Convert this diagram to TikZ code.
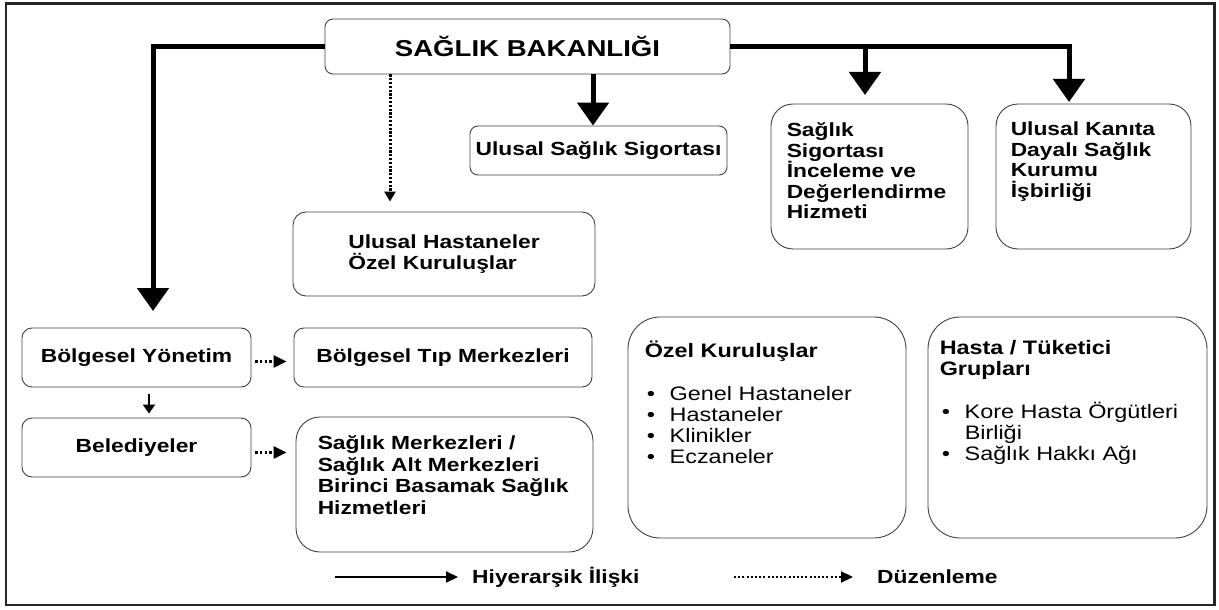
\documentclass[tikz,border=0pt]{standalone}
\usepackage{fontspec}
\setmainfont{Liberation Sans}[FakeStretch=1.2]
\usetikzlibrary{arrows.meta,calc}
\begin{document}
\begin{tikzpicture}[x=1pt,y=-1pt,
  box/.style={draw=black!75, line width=0.9pt, rounded corners=#1, inner sep=0pt, align=center},
  box/.default=9pt,
  titlefont/.style={font=\fontsize{23}{27}\selectfont\bfseries},
  bodyfont/.style={font=\fontsize{19}{20.5}\selectfont\bfseries},
  listfont/.style={font=\fontsize{19.5}{21}\selectfont},
  txt/.style={anchor=north west, inner sep=0pt, align=left},
  hier/.style={line width=5pt, -{Triangle[length=23pt,width=31pt]}},
  hiersmall/.style={line width=2.6pt, -{Triangle[length=9pt,width=12pt]}},
  reg/.style={line width=3pt, dash pattern=on 2.2pt off 1.6pt, -{Triangle[length=10pt,width=11pt]}},
  regsmall/.style={line width=2.6pt, dash pattern=on 2.4pt off 2.2pt, -{Triangle[length=13pt,width=12pt]}},
  legsolid/.style={line width=2pt, -{Triangle[length=12pt,width=11pt]}},
  legdot/.style={line width=2.2pt, dash pattern=on 2pt off 2.2pt, -{Triangle[length=12pt,width=11pt]}}
]
\useasboundingbox (0,0) rectangle (1219,610);
\draw[line width=2.2pt, black!85] (6,3.5) rectangle (1214.5,605);

% boxes
\node[box=8pt, minimum width=405pt, minimum height=55pt, titlefont] (min) at (527.5,46.5) {SAĞLIK BAKANLIĞI};
\node[box=8pt, minimum width=257pt, minimum height=49pt, bodyfont] (uss) at (598.5,150.5) {Ulusal Sağlık Sigortası};
\node[box=13pt, minimum width=302pt, minimum height=84pt, bodyfont, align=left] (uh) at (444,254) {Ulusal Hastaneler\\Özel Kuruluşlar};

\node[box=22pt, minimum width=197pt, minimum height=145pt] (ssi) at (869.5,176.5) {};
\node[txt, bodyfont] (ssit) at ($(ssi.north west)+(16,19)$) {Sağlık\\Sigortası\\İnceleme ve\\Değerlendirme\\Hizmeti};

\node[box=22pt, minimum width=195pt, minimum height=145pt] (uk) at (1093.5,176.5) {};
\node[txt, bodyfont] (ukt) at ($(uk.north west)+(15,18)$) {Ulusal Kanıta\\Dayalı Sağlık\\Kurumu\\İşbirliği};

\node[box=10pt, minimum width=229pt, minimum height=59pt, bodyfont] (by) at (136.5,357.5) {Bölgesel Yönetim};
\node[box=10pt, minimum width=229pt, minimum height=59pt, bodyfont] (bel) at (136.5,447.5) {Belediyeler};
\node[box=10pt, minimum width=298pt, minimum height=59pt, bodyfont] (btm) at (443,357.5) {Bölgesel Tıp Merkezleri};

\node[box=24pt, minimum width=297pt, minimum height=135pt] (smz) at (444.5,484.5) {};
\node[txt, font=\fontsize{19}{21.5}\selectfont\bfseries] (smzt) at ($(smz.north west)+(22,19)$) {Sağlık Merkezleri /\\Sağlık Alt Merkezleri\\Birinci Basamak Sağlık\\Hizmetleri};

\node[box=32pt, minimum width=278pt, minimum height=221pt] (oz) at (767,427.5) {};
\node[txt, listfont] (ozt) at ($(oz.north west)+(17,24)$) {\textbf{Özel Kuruluşlar}\\[22pt]
\makebox[25pt][l]{\hspace{2pt}•}Genel Hastaneler\\
\makebox[25pt][l]{\hspace{2pt}•}Hastaneler\\
\makebox[25pt][l]{\hspace{2pt}•}Klinikler\\
\makebox[25pt][l]{\hspace{2pt}•}Eczaneler};

\node[box=32pt, minimum width=279pt, minimum height=221pt] (ha) at (1067.5,427.5) {};
\node[txt, listfont] (hat) at ($(ha.north west)+(12,24)$) {\textbf{Hasta / Tüketici}\\\textbf{Grupları}\\[22pt]
\makebox[25pt][l]{\hspace{2pt}•}Kore Hasta Örgütleri\\
\hspace*{25pt}Birliği\\
\makebox[25pt][l]{\hspace{2pt}•}Sağlık Hakkı Ağı};

% connectors
\coordinate (ltip) at (153,311);
\draw[hier] (min.west) -| (ltip);
\coordinate (c593) at (593,0);
\draw[hier] (min.south -| c593) -- (uss.north -| c593);
\coordinate (c390) at (390,0);
\draw[reg, shorten >=10pt] (min.south -| c390) -- (uh.north -| c390);
\coordinate (rtip) at (1069,102);
\draw[hier] (min.east) -| (rtip);
\coordinate (btip) at (865,95);
\draw[hier] (min.east -| btip) -- (btip);

\coordinate (c149) at (149,0);
\draw[hiersmall, shorten <=7pt, shorten >=4pt] (by.south -| c149) -- (bel.north -| c149);
\coordinate (d1) at ($(by.east)+(0,4)$);
\draw[regsmall, shorten <=4pt, shorten >=7pt] (d1) -- (d1 -| btm.west);
\coordinate (d2) at ($(bel.east)+(0,5)$);
\draw[regsmall, shorten <=4pt, shorten >=9pt] (d2) -- (d2 -| smz.west);

% legend
\coordinate (l1s) at (335,577);
\coordinate (l1e) at (458,577);
\draw[legsolid] (l1s) -- (l1e);
\node[anchor=west, inner sep=0pt, bodyfont] (l1t) at (472,577) {Hiyerarşik İlişki};
\coordinate (l2s) at (734,577);
\coordinate (l2e) at (853,577);
\draw[legdot] (l2s) -- (l2e);
\node[anchor=west, inner sep=0pt, bodyfont] (l2t) at (877,577) {Düzenleme};
\end{tikzpicture}
\end{document}
